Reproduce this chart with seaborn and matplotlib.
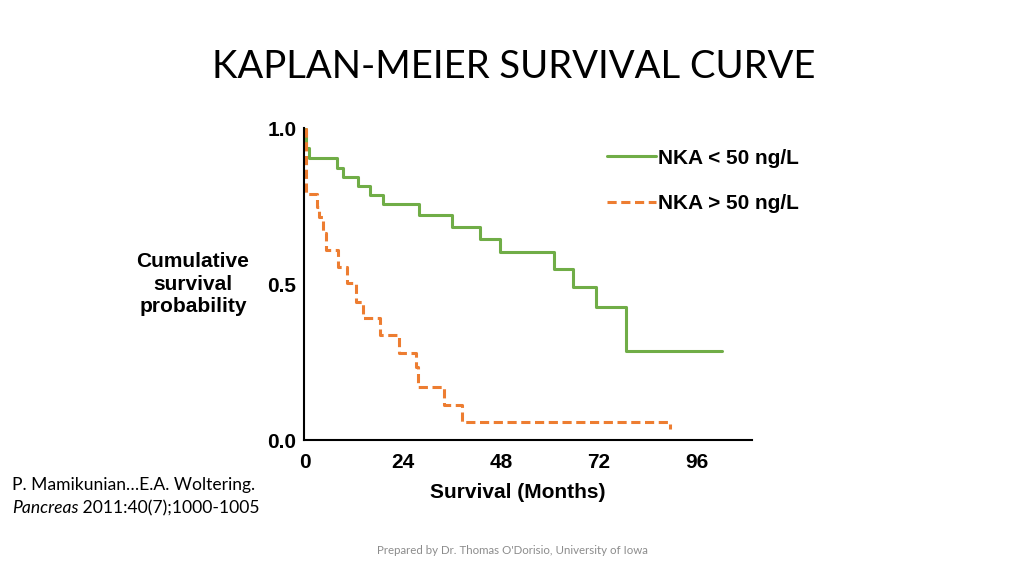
import pandas as pd
import seaborn as sns
from matplotlib import pyplot as plt

# ---------------- data ----------------
# NKA < 50 ng/L  (solid green)
low_months = [0, 0.3, 1.0, 7.9, 9.2, 12.9, 15.9, 19.0, 27.9, 36.1, 42.9, 47.8,
              61.0, 65.6, 71.3, 78.6, 102.3]
low_surv = [1.0, 0.94, 0.906, 0.874, 0.845, 0.817, 0.788, 0.759, 0.722, 0.684,
            0.645, 0.605, 0.551, 0.491, 0.427, 0.287, 0.287]

# NKA > 50 ng/L  (dashed orange)
high_months = [0, 0.3, 2.9, 3.5, 4.5, 5.1, 8.2, 10.4, 12.4, 14.1, 18.5, 23.1,
               27.1, 27.8, 34.1, 38.4, 89.6]
high_surv = [1.0, 0.79, 0.75, 0.718, 0.665, 0.611, 0.557, 0.504, 0.445, 0.391,
             0.338, 0.281, 0.236, 0.169, 0.113, 0.057, 0.035]

group_names = ["NKA < 50 ng/L", "NKA > 50 ng/L"]
x_ticks = [0, 24, 48, 72, 96]
y_ticks = [0.0, 0.5, 1.0]
y_tick_labels = ["0.0", "0.5", "1.0"]

df = pd.concat([
    pd.DataFrame({"month": low_months, "surv": low_surv, "group": group_names[0]}),
    pd.DataFrame({"month": high_months, "surv": high_surv, "group": group_names[1]}),
], ignore_index=True)

sns.set_theme(style="white")
plt.rcParams["font.family"] = ["Liberation Sans", "DejaVu Sans"]
plt.rcParams["text.color"] = "black"
plt.rcParams["axes.labelcolor"] = "black"
plt.rcParams["xtick.color"] = "black"
plt.rcParams["ytick.color"] = "black"

fig = plt.figure(figsize=(10.24, 5.76), dpi=100)
ax = fig.add_axes([304 / 1024, 1 - 440 / 576, 448 / 1024, 312 / 576])

sns.lineplot(data=df, x="month", y="surv", hue="group", style="group",
             palette={group_names[0]: "#70AD47", group_names[1]: "#ED7D31"},
             dashes={group_names[0]: "", group_names[1]: (3, 1.5)},
             drawstyle="steps-post", estimator=None, sort=False,
             linewidth=2.2, ax=ax)

ax.set_xlim(-0.25, 109.6)
ax.set_ylim(0, 1.003)
ax.set_xticks(x_ticks)
ax.set_yticks(y_ticks)
ax.set_yticklabels(y_tick_labels)
for s in ["top", "right"]:
    ax.spines[s].set_visible(False)
for s in ["left", "bottom"]:
    ax.spines[s].set_color("black")
    ax.spines[s].set_linewidth(1.5)
ax.tick_params(axis="x", length=0, pad=9, labelsize=15)
ax.tick_params(axis="y", direction="inout", length=7, width=1.2, pad=2,
               labelsize=15)
for lab in ax.get_xticklabels() + ax.get_yticklabels():
    lab.set_fontweight("bold")

ax.set_xlabel("Survival (Months)", fontsize=15, fontweight="bold", va="center")
ax.xaxis.set_label_coords((518 - 304) / 448, (440 - 493) / 312)
ax.set_ylabel("Cumulative\nsurvival\nprobability", fontsize=15, fontweight="bold",
              rotation=0, ha="center", va="center", multialignment="center",
              linespacing=1.25)
ax.yaxis.set_label_coords((193 - 304) / 448, (440 - 284) / 312)

leg = ax.legend(loc="upper left", bbox_to_anchor=(588 / 1024, 1 - 130 / 576),
                bbox_transform=fig.transFigure, frameon=False, title=None,
                prop={"family": "Liberation Sans", "weight": "bold", "size": 15},
                handlelength=2.35, handletextpad=0.1, labelspacing=1.28)

# slide text
fig.text(514 / 1024, 1 - 67 / 576, "KAPLAN-MEIER SURVIVAL CURVE", ha="center",
         va="center", fontsize=27.5, family="Lato", color="black")
fig.text(12 / 1024, 1 - 485 / 576, "P. Mamikunian\u2026E.A. Woltering.", ha="left",
         va="center", fontsize=12.6, family="Lato", color="black")
it = fig.text(12 / 1024, 1 - 508 / 576, "Pancreas", ha="left", va="center",
              fontsize=12.6, family="Lato", style="italic", color="black")
fig.canvas.draw()
bb = it.get_window_extent().transformed(fig.transFigure.inverted())
fig.text(bb.x1, 1 - 508 / 576, " 2011:40(7);1000-1005", ha="left", va="center",
         fontsize=12.6, family="Lato", color="black")
fig.text(512 / 1024, 1 - 550 / 576, "Prepared by Dr. Thomas O'Dorisio, University of Iowa",
         ha="center", va="center", fontsize=8.3, family="Lato", color="#8c8c8c")

fig.savefig("out.png", dpi=100)
